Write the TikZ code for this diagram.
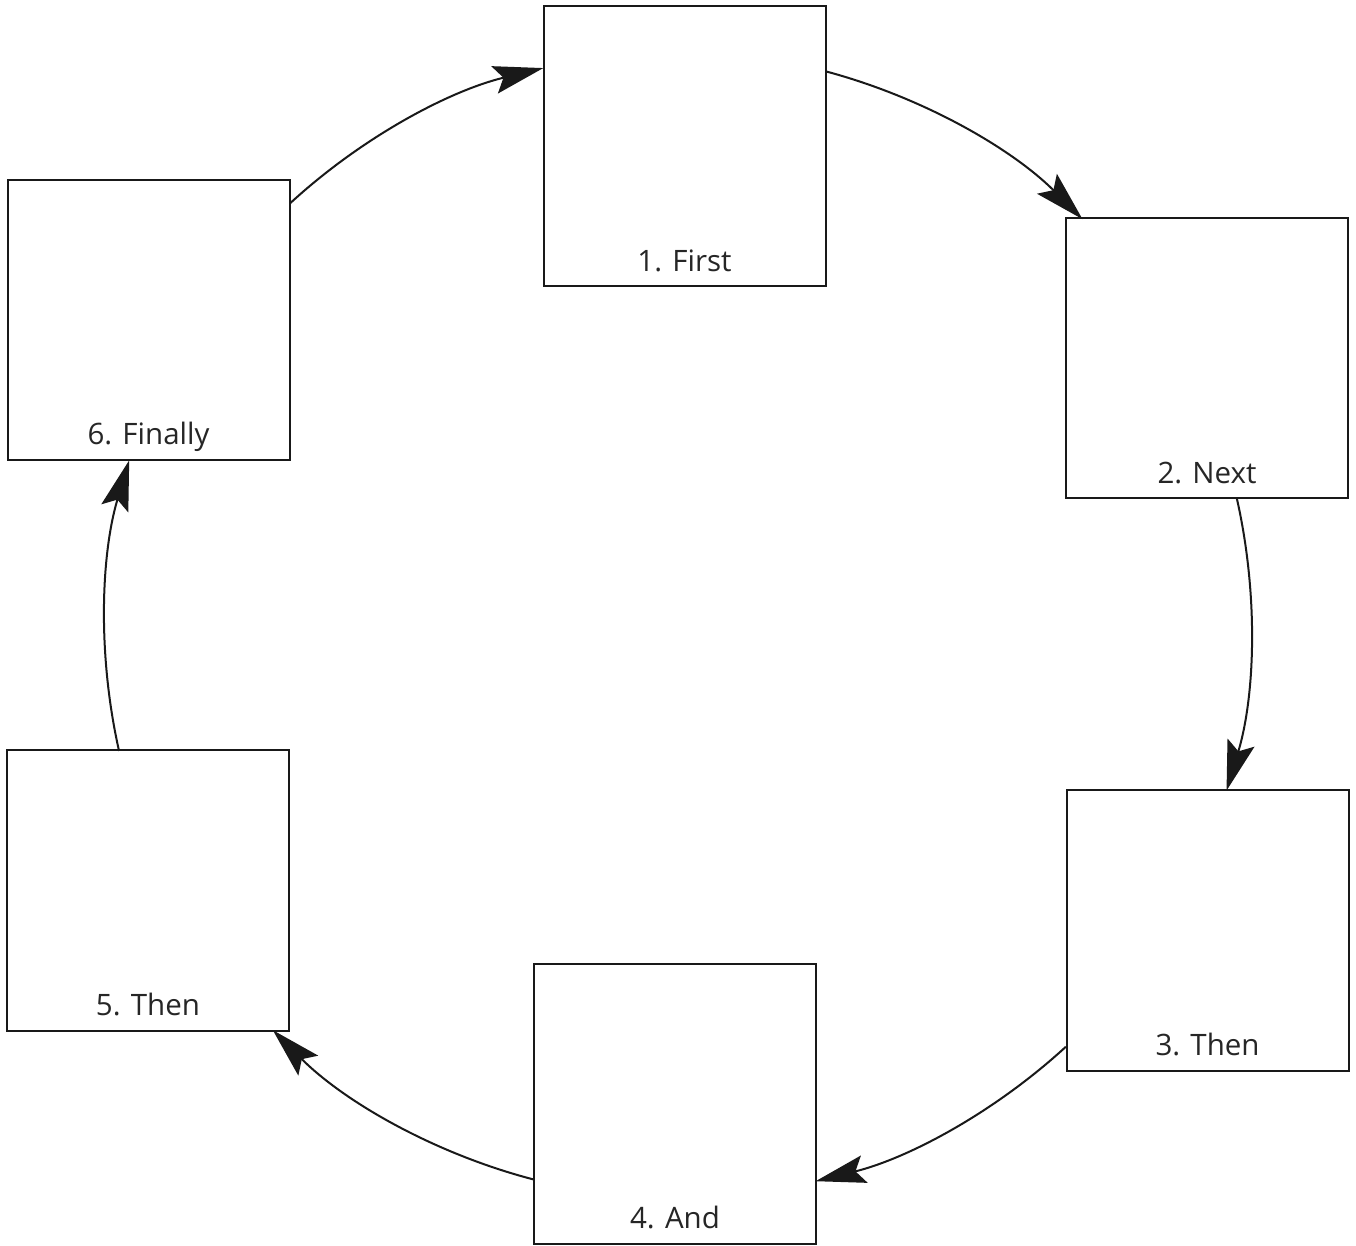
\documentclass[tikz,border=0pt]{standalone}
\usepackage{fontspec}
\setmainfont{Open Sans}
\usetikzlibrary{arrows.meta}
\begin{document}
\begin{tikzpicture}[x=1pt,y=1pt,
  stepbox/.style={draw=black!90,line width=2pt,minimum width=282pt,minimum height=280pt,inner sep=0pt},
  lbl/.style={anchor=base,font=\fontsize{29.5}{34}\selectfont,text=black!85,inner sep=0pt},
  arr/.style={line width=2pt,draw=black!90,-{Stealth[length=50pt,width=28pt,inset=9pt]}}]
\useasboundingbox (0,0) rectangle (1356,1245);
\coordinate (c) at (678,620);
\def\R{573}
% boxes
\node[stepbox] (b1) at (684.5,1098.5) {};
\node[stepbox] (b2) at (1207,886.5) {};
\node[stepbox] (b3) at (1207.5,314.5) {};
\node[stepbox] (b4) at (675,141.5) {};
\node[stepbox] (b5) at (148,354.5) {};
\node[stepbox] (b6) at (148.5,925) {};
% labels
\node[lbl] (l1) at ([yshift=16pt]b1.south) {1. First};
\node[lbl] (l2) at ([yshift=16pt]b2.south) {2. Next};
\node[lbl] (l3) at ([yshift=16pt]b3.south) {3. Then};
\node[lbl] (l4) at ([yshift=16pt]b4.south) {4. And};
\node[lbl] (l5) at ([yshift=16pt]b5.south) {5. Then};
\node[lbl] (l6) at ([yshift=16pt]b6.south) {6. Finally};
% connectors (arcs of one circle)
\draw[arr] ([shift={(132.6:\R)}]c) arc[start angle=132.6,end angle=103.6,radius=\R];
\draw[arr] ([shift={(75.0:\R)}]c) arc[start angle=75.0,end angle=45.1,radius=\R];
\draw[arr] ([shift={(12.8:\R)}]c) arc[start angle=12.8,end angle=-16.8,radius=\R];
\draw[arr] ([shift={(-47.4:\R)}]c) arc[start angle=-47.4,end angle=-76.1,radius=\R];
\draw[arr] ([shift={(-104.6:\R)}]c) arc[start angle=-104.6,end angle=-135.0,radius=\R];
\draw[arr] ([shift={(192.7:\R)}]c) arc[start angle=192.7,end angle=163.3,radius=\R];
\end{tikzpicture}
\end{document}
